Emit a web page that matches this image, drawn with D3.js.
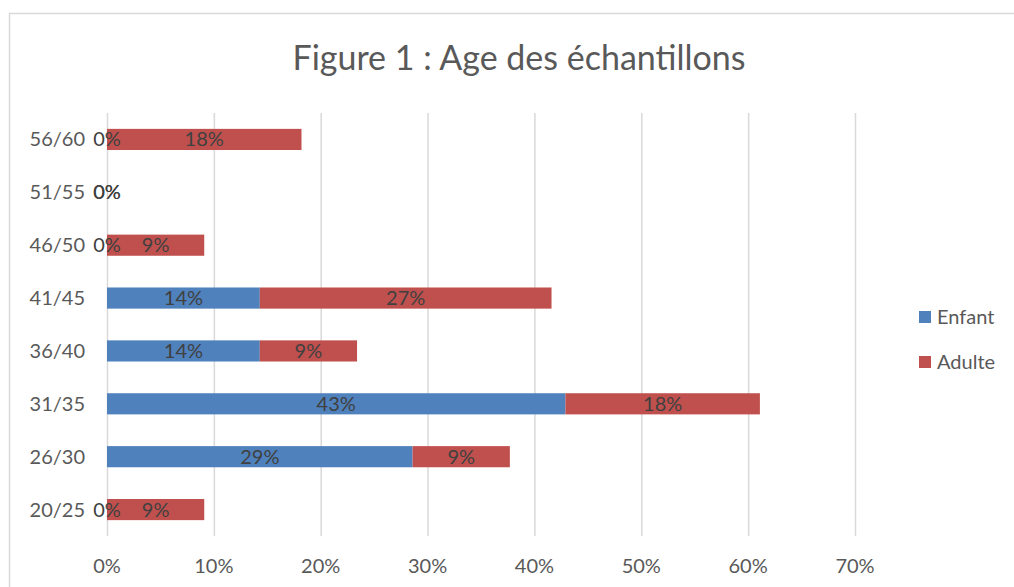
<!DOCTYPE html>
<head>
<meta charset="utf-8">
<script src='https://d3js.org/d3.v7.min.js'></script>
<title>Figure 1</title>
<style>
  body { margin:0; background:#fff; }
  text { font-family: Lato, 'Open Sans', sans-serif; }
</style>
</head>
<body>
<svg width=1014 height=587></svg>
<script>
// tranches d'age, du bas vers le haut
let categories = ['20/25','26/30','31/35','36/40','41/45','46/50','51/55','56/60']
let enfant = [0, 28.6, 42.9, 14.3, 14.3, 0, 0, 0]
let adulte = [9.1, 9.1, 18.2, 9.1, 27.3, 9.1, 0, 18.2]
let xticks = [0,10,20,30,40,50,60,70]
let series = ['Enfant','Adulte']
let colors = {'Enfant':'#4F81BD','Adulte':'#C0504D'}

let svg = d3.select('svg')

// cadre
svg.append('path')
    .attr('d', 'M9.5,587 V13.5 H1014')
    .style('fill','none')
    .style('stroke','#D9D9D9')
    .style('stroke-width',1.5)

svg.append('text')
    .attr('x', 519).attr('y', 70)
    .style('text-anchor','middle')
    .style('font-size','34px')
    .style('fill','#595959')
    .text('Figure 1 : Age des échantillons')

var x = d3.scaleLinear().domain([0,70]).range([107,855])
var y = d3.scaleBand().domain(categories).range([536,113]).paddingInner(0.6).paddingOuter(0.3)

// grille
svg.append('g').selectAll('line')
    .data(xticks).enter().append('line')
        .attr('x1', d => x(d)+0.5).attr('x2', d => x(d)+0.5)
        .attr('y1', 113).attr('y2', 536)
        .style('stroke','#D9D9D9').style('stroke-width',1.5)

svg.append('g').selectAll('text')
    .data(xticks).enter().append('text')
        .attr('x', d => x(d)).attr('y', 573)
        .style('text-anchor','middle')
        .style('font-size','20px')
        .style('fill','#595959')
        .text(d => d + '%')

svg.append('g').selectAll('text')
    .data(categories).enter().append('text')
        .attr('x', 85).attr('y', d => y(d) + y.bandwidth()/2 + 7)
        .style('text-anchor','end')
        .style('font-size','20px')
        .style('fill','#595959')
        .text(d => d)

let rows = categories.map((c,i) => ({cat:c, Enfant:enfant[i], Adulte:adulte[i]}))
let stacked = d3.stack().keys(series)(rows)

stacked.forEach(function(layer) {
    svg.append('g').selectAll('rect')
        .data(layer).enter().append('rect')
            .attr('x', d => x(d[0]))
            .attr('y', d => y(d.data.cat))
            .attr('width', d => x(d[1]) - x(d[0]))
            .attr('height', y.bandwidth())
            .style('fill', colors[layer.key])
})

// etiquettes par-dessus les barres
stacked.forEach(function(layer) {
    svg.append('g').selectAll('text')
        .data(layer).enter().append('text')
            .attr('x', d => (x(d[0]) + x(d[1]))/2)
            .attr('y', d => y(d.data.cat) + y.bandwidth()/2 + 7)
            .style('text-anchor','middle')
            .style('font-size','20px')
            .style('fill','#404040')
            .text(d => Math.round(d[1]-d[0]) + '%')
})

// legende
let leg = svg.append('g').selectAll('g')
    .data(series).enter().append('g')
        .attr('transform', (d,i) => 'translate(919,' + (311 + i*45) + ')')
leg.append('rect')
    .attr('width', 12).attr('height', 12)
    .style('fill', d => colors[d])
leg.append('text')
    .attr('x', 18).attr('y', 13)
    .style('font-size','20px')
    .style('fill','#595959')
    .text(d => d)
</script>
</body>
